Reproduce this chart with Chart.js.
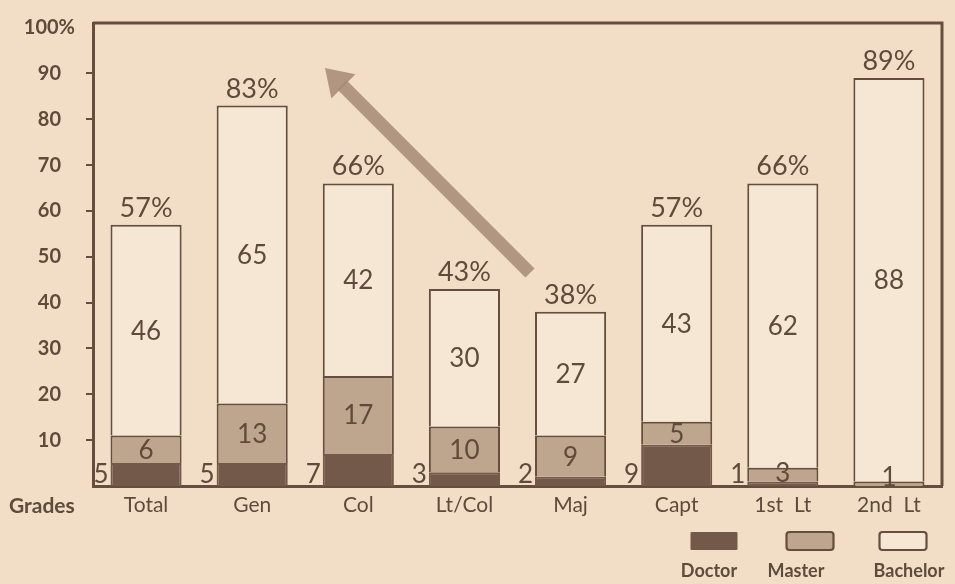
<!DOCTYPE html>
<html>
<head>
<meta charset="utf-8">
<title>Degrees by grade</title>
<script src="https://cdn.jsdelivr.net/npm/chart.js@4.4.1/dist/chart.umd.min.js"></script>
<style>
  html, body { margin: 0; padding: 0; background: #f2dec6; }
  #wrap { width: 955px; height: 584px; }
</style>
</head>
<body>
<div id="wrap"><canvas id="c" width="955" height="584"></canvas></div>
<script>
// Percent of officers holding each degree, by grade
const grades   = ['Total', 'Gen', 'Col', 'Lt/Col', 'Maj', 'Capt', '1st  Lt', '2nd  Lt'];
const doctor   = [5, 5, 7, 3, 2, 9, 1, 0];
const master   = [6, 13, 17, 10, 9, 5, 3, 1];
const bachelor = [46, 65, 42, 30, 27, 43, 62, 88];
const yTicks   = [10, 20, 30, 40, 50, 60, 70, 80, 90, 100];
const seriesNames = ['Doctor', 'Master', 'Bachelor'];

const C = {
  paper:   '#f2dec6',
  fill:    '#f6e7d5',
  doctor:  '#725949',
  master:  '#bea58d',
  ink:     '#654e3f',
  text:    '#5f4b3c',
  arrow:   'rgba(166,138,116,0.85)'
};
const FONT = 'Lato, "Open Sans", sans-serif';

const totals = grades.map((_, i) => doctor[i] + master[i] + bachelor[i]);

const annotate = {
  id: 'annotate',
  beforeDraw(chart) {
    const ctx = chart.ctx;
    ctx.save();
    ctx.fillStyle = C.paper;
    ctx.fillRect(0, 0, chart.width, chart.height);
    ctx.restore();
  },
  afterDatasetsDraw(chart) {
    const ctx = chart.ctx;
    const area = chart.chartArea;
    ctx.save();

    // top and right edges of the frame
    ctx.strokeStyle = C.ink;
    ctx.lineWidth = 3;
    ctx.beginPath();
    ctx.moveTo(area.left, area.top);
    ctx.lineTo(area.right, area.top);
    ctx.lineTo(area.right, area.bottom);
    ctx.stroke();

    const metas = [0, 1, 2].map(k => chart.getDatasetMeta(k));
    ctx.fillStyle = C.text;

    grades.forEach((g, i) => {
      const d = metas[0].data[i].getProps(['x', 'y', 'base', 'width'], true);
      const m = metas[1].data[i].getProps(['x', 'y', 'base', 'width'], true);
      const b = metas[2].data[i].getProps(['x', 'y', 'base', 'width'], true);
      const half = b.width / 2;

      ctx.font = `26px ${FONT}`;
      // doctor share sits beside the bar foot
      if (doctor[i] > 0) {
        ctx.textAlign = 'right';
        ctx.textBaseline = 'alphabetic';
        ctx.fillText(String(doctor[i]), d.x - half - 2, d.base - 3);
      }
      // master share inside its segment
      ctx.textAlign = 'center';
      ctx.textBaseline = 'middle';
      const my = Math.min((m.y + m.base) / 2, m.base - 9);
      ctx.fillText(String(master[i]), m.x, my + 1);
      // bachelor share inside its segment
      ctx.fillText(String(bachelor[i]), b.x, (b.y + b.base) / 2 + 1);
      // total above the bar
      ctx.font = `27px ${FONT}`;
      ctx.textBaseline = 'alphabetic';
      ctx.fillText(totals[i] + '%', b.x, b.y - 8);
    });

    // "Grades" row heading
    ctx.font = `bold 21px ${FONT}`;
    ctx.textAlign = 'left';
    ctx.textBaseline = 'middle';
    ctx.fillText('Grades', 9, chart.scales.x.top + 20);

    // trend arrow
    const tail = { x: 530, y: 273 }, tip = { x: 325, y: 68 };
    const dx = tip.x - tail.x, dy = tip.y - tail.y;
    const len = Math.hypot(dx, dy);
    const ux = dx / len, uy = dy / len, px = -uy, py = ux;
    const headLen = 26, headHalf = 17;
    const neck = { x: tip.x - ux * headLen, y: tip.y - uy * headLen };
    ctx.strokeStyle = C.arrow;
    ctx.fillStyle = C.arrow;
    ctx.lineWidth = 13;
    ctx.lineCap = 'butt';
    ctx.beginPath();
    ctx.moveTo(tail.x, tail.y);
    ctx.lineTo(neck.x + ux * 2, neck.y + uy * 2);
    ctx.stroke();
    ctx.beginPath();
    ctx.moveTo(tip.x, tip.y);
    ctx.lineTo(neck.x + px * headHalf, neck.y + py * headHalf);
    ctx.lineTo(neck.x - px * headHalf, neck.y - py * headHalf);
    ctx.closePath();
    ctx.fill();

    // key: swatch above its name
    const boxCx = [714, 810, 903];
    const textCx = [709, 796, 909];
    chart.data.datasets.forEach((ds, k) => {
      const w = 47, h = 18, x = boxCx[k] - w / 2, y = 532;
      ctx.beginPath();
      ctx.roundRect(x, y, w, h, k === 0 ? 1 : 3);
      ctx.fillStyle = ds.backgroundColor;
      ctx.fill();
      if (k > 0) {
        ctx.lineWidth = 2.2;
        ctx.strokeStyle = C.ink;
        ctx.stroke();
      }
      ctx.fillStyle = C.text;
      ctx.font = `bold 18px ${FONT}`;
      ctx.textAlign = 'center';
      ctx.textBaseline = 'alphabetic';
      ctx.fillText(ds.label, textCx[k], 577);
    });

    ctx.restore();
  }
};

const segBorder = { top: 2, left: 2, right: 2, bottom: 0 };

new Chart(document.getElementById('c'), {
  type: 'bar',
  data: {
    labels: grades,
    datasets: [
      { label: seriesNames[0], data: doctor,   backgroundColor: C.doctor, borderColor: C.doctor, borderWidth: segBorder, borderSkipped: false },
      { label: seriesNames[1], data: master,   backgroundColor: C.master, borderColor: C.ink,    borderWidth: segBorder, borderSkipped: false },
      { label: seriesNames[2], data: bachelor, backgroundColor: C.fill,   borderColor: C.ink,    borderWidth: segBorder, borderSkipped: false }
    ]
  },
  options: {
    responsive: false,
    animation: false,
    devicePixelRatio: 1,
    layout: { padding: { top: 18, right: 13, left: 0, bottom: 0 } },
    datasets: { bar: { barPercentage: 0.67, categoryPercentage: 1.0 } },
    plugins: { legend: { display: false }, tooltip: { enabled: false } },
    scales: {
      x: {
        stacked: true,
        afterFit: s => { s.height = 98; },
        border: { display: true, color: C.ink, width: 3 },
        grid: { display: false, drawTicks: false },
        ticks: { color: C.text, font: { family: FONT, size: 21 }, padding: 7, maxRotation: 0, autoSkip: false }
      },
      y: {
        stacked: true,
        min: 0,
        max: 101,
        afterBuildTicks: s => { s.ticks = yTicks.map(v => ({ value: v })); },
        afterFit: s => { s.width = 93; },
        border: { display: true, color: C.ink, width: 3 },
        grid: {
          drawOnChartArea: false,
          drawTicks: true,
          tickLength: 7,
          lineWidth: 2,
          tickColor: c => (c.tick && c.tick.value === 100) ? 'rgba(0,0,0,0)' : C.ink
        },
        ticks: {
          color: C.text,
          font: { family: FONT, size: 20, weight: 'bold' },
          padding: 11,
          crossAlign: 'center',
          autoSkip: false,
          callback: v => v === 100 ? '100%' : String(v)
        }
      }
    }
  },
  plugins: [annotate]
});
</script>
</body>
</html>
